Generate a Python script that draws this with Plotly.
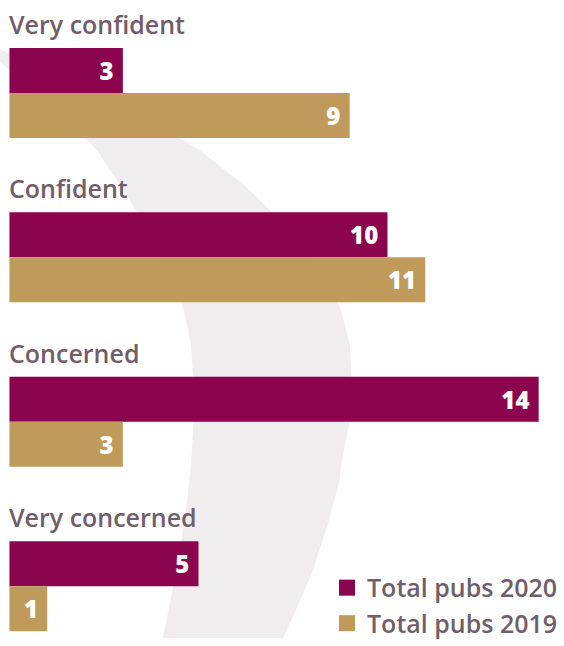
import plotly.graph_objects as go

categories = ["Very confident", "Confident", "Concerned", "Very concerned"]
pubs_2020 = [3, 10, 14, 5]
pubs_2019 = [9, 11, 3, 1]
series_names = ["Total pubs 2020", "Total pubs 2019"]

W, H = 564, 646
MAROON = "#8A044E"
GOLD = "#C09A5A"
LABEL = "#715E69"
SWOOSH = "#EFEDEE"

# decorative background swoosh outline (pixel positions)
swoosh_right = [(0, 50), (50, 72), (100, 98), (150, 122), (198, 151), (245, 188), (290, 233),
                (320, 270), (341, 314), (350, 350), (352, 397), (349, 430), (343, 460),
                (339, 489), (328, 530), (312, 580), (295, 620), (283, 646)]
swoosh_left = [(163, 646), (172, 600), (181, 550), (188, 500), (191, 470), (194, 420),
               (194, 397), (191, 350), (184, 314), (170, 275), (148, 233), (125, 195),
               (96, 151), (50, 103), (0, 63)]
pts = swoosh_right + swoosh_left
path = "M " + " L ".join(f"{x / W:.4f},{1 - y / H:.4f}" for x, y in pts) + " Z"

fig = go.Figure()
colors = [MAROON, GOLD]
for name, vals, col in [(series_names[0], pubs_2020, MAROON), (series_names[1], pubs_2019, GOLD)]:
    fig.add_trace(go.Bar(
        y=categories, x=vals, name=name, orientation="h",
        marker=dict(color=col, line=dict(width=0)),
        texttemplate="%{x}\u00a0", textposition="inside", insidetextanchor="end",
        constraintext="none", textangle=0,
        textfont=dict(family="Open Sans", size=24, color="white", weight=800),
        hoverinfo="skip", showlegend=False,
    ))

# legend entries with larger square swatches
for name, col in zip(series_names, colors):
    fig.add_trace(go.Scatter(
        x=[None], y=[None], mode="markers", name=name,
        marker=dict(symbol="square", size=18, color=col, line=dict(width=0)),
        hoverinfo="skip", showlegend=True,
    ))

for c in categories:
    fig.add_annotation(x=0, y=c, xref="x", yref="y", text=c, showarrow=False,
                       xanchor="left", yanchor="middle", yshift=69, xshift=-2,
                       font=dict(family="Open Sans", size=25, color=LABEL, weight=600))

fig.add_shape(type="path", path=path, xref="paper", yref="paper",
              fillcolor=SWOOSH, line=dict(width=0), layer="below")

fig.update_layout(
    width=W, height=H, margin=dict(l=0, r=0, t=0, b=0),
    paper_bgcolor="white", plot_bgcolor="rgba(0,0,0,0)",
    barmode="group", bargap=0.453, bargroupgap=0,
    xaxis=dict(visible=False, range=[-0.25, 14.67], fixedrange=True),
    yaxis=dict(visible=False, type="category", categoryarray=categories,
               range=[3.315, -0.565], fixedrange=True),
    showlegend=True,
    legend=dict(x=327 / W, y=1 - 572 / H, xanchor="left", yanchor="top",
                traceorder="normal", bgcolor="rgba(0,0,0,0)",
                font=dict(family="Open Sans", size=25, color=LABEL, weight=600),
                itemclick=False, itemdoubleclick=False, tracegroupgap=0),
)

fig.write_html("out.html")
